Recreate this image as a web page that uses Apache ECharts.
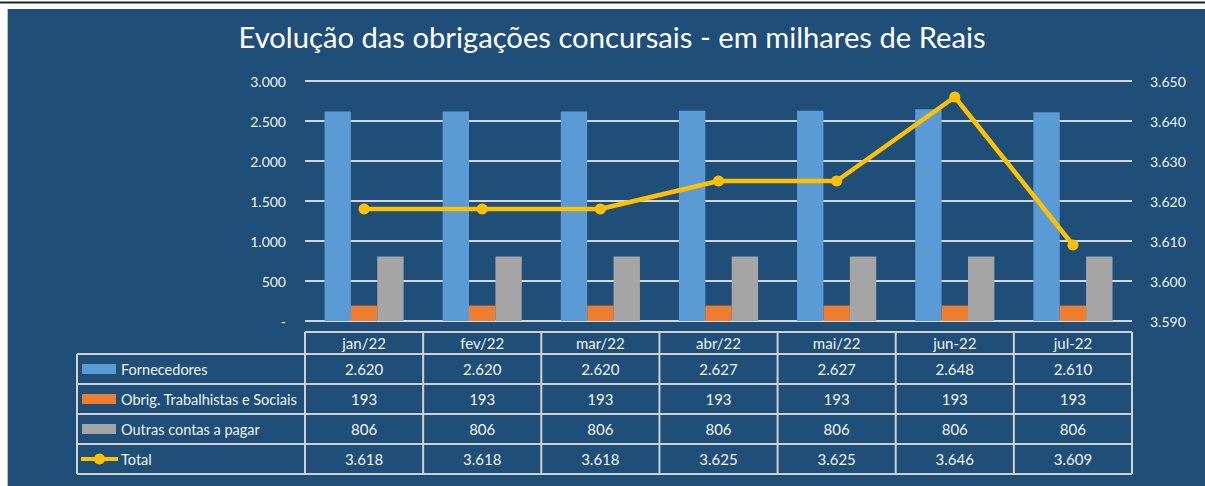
<!DOCTYPE html>
<html>
<head>
<meta charset="utf-8">
<script src="https://cdn.jsdelivr.net/npm/echarts@6/dist/echarts.min.js"></script>
<style>
  html, body { margin: 0; padding: 0; background: #ffffff; }
  #chart { width: 1205px; height: 486px; }
</style>
</head>
<body>
<div id="chart"></div>
<script>
// dados (milhares de reais)
const months = ['jan/22', 'fev/22', 'mar/22', 'abr/22', 'mai/22', 'jun-22', 'jul-22'];
const fornecedores = [2620, 2620, 2620, 2627, 2627, 2648, 2610];
const obrigTrab = [193, 193, 193, 193, 193, 193, 193];
const outrasContas = [806, 806, 806, 806, 806, 806, 806];
const total = [3618, 3618, 3618, 3625, 3625, 3646, 3609];
const seriesNames = ['Fornecedores', 'Obrig. Trabalhistas e Sociais', 'Outras contas a pagar', 'Total'];

const colors = ['#5B9BD5', '#ED7D31', '#A5A5A5', '#FFC000'];
const bg = '#1F4E79';
const font = 'Lato';

// formato pt-BR: 2620 -> 2.620
const fmt = v => v === 0 ? '-' : v.toLocaleString('pt-BR');

const grid = { left: 305, right: 73, top: 81, bottom: 165 };

const chart = echarts.init(document.getElementById('chart'), null, { renderer: 'svg' });

const option = {
  backgroundColor: 'transparent',
  animation: false,
  textStyle: { fontFamily: font },
  title: {
    text: 'Evolução das obrigações concursais - em milhares de Reais',
    left: 607, top: 17, textAlign: 'center',
    textStyle: { color: '#ffffff', fontSize: 29.2, fontWeight: 'normal', fontFamily: font }
  },
  grid: grid,
  xAxis: {
    type: 'category',
    data: months,
    axisLine: { show: false },
    axisTick: { show: false },
    axisLabel: { show: false }
  },
  yAxis: [
    {
      type: 'value', min: 0, max: 3000, interval: 500,
      axisLine: { show: false }, axisTick: { show: false },
      axisLabel: { color: '#F2F2F2', fontSize: 14, margin: 19, formatter: fmt },
      splitLine: { lineStyle: { color: '#D9D9D9', width: 2 } }
    },
    {
      type: 'value', min: 3590, max: 3650, interval: 10,
      axisLine: { show: false }, axisTick: { show: false },
      axisLabel: { color: '#F2F2F2', fontSize: 14, margin: 18, formatter: fmt },
      splitLine: { show: false }
    }
  ],
  series: [
    { name: seriesNames[0], type: 'bar', data: fornecedores, itemStyle: { color: colors[0] }, barGap: '0%', barCategoryGap: '33%' },
    { name: seriesNames[1], type: 'bar', data: obrigTrab, itemStyle: { color: colors[1] } },
    { name: seriesNames[2], type: 'bar', data: outrasContas, itemStyle: { color: colors[2] } },
    {
      name: seriesNames[3], type: 'line', yAxisIndex: 1, data: total,
      symbol: 'circle', symbolSize: 11,
      lineStyle: { color: colors[3], width: 4.5 },
      itemStyle: { color: colors[3] }, z: 5
    }
  ]
};
chart.setOption(option);

// tabela de dados abaixo do gráfico
const W = 1205, H = 486;
const plotLeft = grid.left, plotRight = W - grid.right;
const colW = (plotRight - plotLeft) / months.length;
const headTop = 332, rowTop = 354, rowH = 30, tableLeft = 77;
const lineCol = '#D0D0D0';
const rows = [fornecedores, obrigTrab, outrasContas, total];

const g = [];
// fundo azul e faixa superior
g.push({ type: 'rect', shape: { x: 8, y: 9, width: W - 8, height: H - 9 }, style: { fill: bg }, z: -10 });
g.push({ type: 'line', shape: { x1: 0, y1: 2.5, x2: W, y2: 2.5 }, style: { stroke: '#222', lineWidth: 2 }, z: -10 });
g.push({ type: 'line', shape: { x1: 7.5, y1: 9, x2: 7.5, y2: H }, style: { stroke: '#BFBFBF', lineWidth: 1 }, z: -10 });

const tableBottom = rowTop + rowH * rows.length;
// linhas horizontais
g.push({ type: 'line', shape: { x1: plotLeft, y1: headTop, x2: plotRight, y2: headTop }, style: { stroke: lineCol, lineWidth: 2 } });
for (let r = 0; r <= rows.length; r++) {
  const y = rowTop + r * rowH;
  g.push({ type: 'line', shape: { x1: tableLeft, y1: y, x2: plotRight, y2: y }, style: { stroke: lineCol, lineWidth: 2 } });
}
// linhas verticais
g.push({ type: 'line', shape: { x1: tableLeft, y1: rowTop, x2: tableLeft, y2: tableBottom }, style: { stroke: lineCol, lineWidth: 2 } });
for (let c = 0; c <= months.length; c++) {
  const x = plotLeft + c * colW;
  g.push({ type: 'line', shape: { x1: x, y1: headTop, x2: x, y2: tableBottom }, style: { stroke: lineCol, lineWidth: 2 } });
}
// cabeçalho
months.forEach((m, i) => {
  const cx = chart.convertToPixel({ xAxisIndex: 0 }, i);
  g.push({ type: 'text', style: { text: m, x: cx, y: (headTop + rowTop) / 2, align: 'center', verticalAlign: 'middle', fill: '#F2F2F2', fontSize: 15, fontFamily: font } });
});
// linhas de valores
rows.forEach((vals, r) => {
  const cy = rowTop + r * rowH + rowH / 2;
  vals.forEach((v, i) => {
    const cx = chart.convertToPixel({ xAxisIndex: 0 }, i);
    g.push({ type: 'text', style: { text: fmt(v), x: cx, y: cy, align: 'center', verticalAlign: 'middle', fill: '#F2F2F2', fontSize: 15, fontFamily: font } });
  });
  // chave da legenda
  if (r < 3) {
    g.push({ type: 'rect', shape: { x: 82, y: cy - 5, width: 34, height: 10 }, style: { fill: colors[r] } });
  } else {
    g.push({ type: 'line', shape: { x1: 81, y1: cy, x2: 118, y2: cy }, style: { stroke: colors[3], lineWidth: 4 } });
    g.push({ type: 'circle', shape: { cx: 99.5, cy: cy, r: 5.5 }, style: { fill: colors[3] } });
  }
  g.push({ type: 'text', style: { text: seriesNames[r], x: 121, y: cy, align: 'left', verticalAlign: 'middle', fill: '#F2F2F2', fontSize: 14.5, fontFamily: font } });
});

chart.setOption({ graphic: { elements: g } });
</script>
</body>
</html>
